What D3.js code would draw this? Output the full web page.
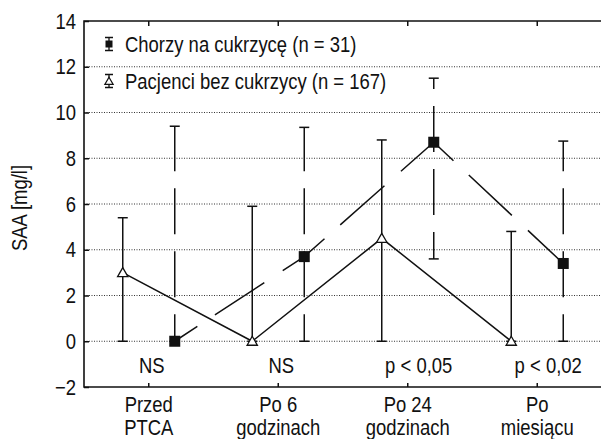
<!DOCTYPE html>
<html>
<head>
<meta charset="utf-8">
<script src="https://cdn.jsdelivr.net/npm/d3@7"></script>
<style>
body { margin: 0; background: #fff; }
text { font-family: "Liberation Sans", Arial, sans-serif; font-size: 22px; fill: #111; }
</style>
</head>
<body>
<div class="diagram"></div>
<script>
var width = 601, height = 439;

// data
var categories = [["Przed", "PTCA"], ["Po 6", "godzinach"], ["Po 24", "godzinach"], ["Po", "miesiącu"]];
var diabMean = [0, 3.7, 8.7, 3.4];
var diabLow  = [0, 0, 3.6, 0];
var diabHigh = [9.4, 9.35, 11.5, 8.75];
var nonMean = [3.0, 0, 4.5, 0];
var nonLow  = [0, 0, 0, 0];
var nonHigh = [5.4, 5.9, 8.8, 4.8];
var pLabels = ["NS", "NS", "p < 0,05", "p < 0,02"];
var yTicks = [-2, 0, 2, 4, 6, 8, 10, 12, 14];
var legendLabels = ["Chorzy na cukrzycę (n = 31)", "Pacjenci bez cukrzycy (n = 167)"];

var margin = { left: 84, top: 21, right: 602, bottom: 387 };
var squeeze = 'scale(0.84,1)';   // narrow type, like Helvetica Narrow

var svg = d3.select('.diagram')
	.append('svg')
	.attr('width', width)
	.attr('height', height);

var x = d3.scaleBand()
	.domain(d3.range(categories.length))
	.range([margin.left, margin.right]);

var y = d3.scaleLinear()
	.domain([-2, 14])
	.range([margin.bottom, margin.top]);

function cx(i) { return x(i) + x.bandwidth() / 2; }
var off = 26;

function label(g, px, py, str, anchor) {
	return g.append('text')
		.attr('transform', 'translate(' + px + ',' + py + ') ' + squeeze)
		.attr('text-anchor', anchor || 'middle')
		.text(str);
}

// grid
svg.append('g')
	.selectAll('line')
	.data(yTicks.filter(function(d) { return d > -2 && d < 14; }))
	.enter().append('line')
	.attr('x1', margin.left).attr('x2', margin.right)
	.attr('y1', function(d) { return y(d); })
	.attr('y2', function(d) { return y(d); })
	.attr('stroke', '#333')
	.attr('stroke-width', 1)
	.attr('stroke-dasharray', '1,1.5');

// axes
var yAxis = d3.axisLeft(y).tickValues(yTicks).tickSize(-5).tickPadding(9.5)
	.tickFormat(function(d) { return d < 0 ? '\u2212' + Math.abs(d) : d; });
var gy = svg.append('g')
	.attr('transform', 'translate(' + margin.left + ',0)')
	.call(yAxis);
gy.select('.domain').remove();
gy.selectAll('text')
	.attr('fill', '#111')
	.attr('transform', squeeze);
gy.attr('font-family', null).attr('font-size', null);

var gx = svg.append('g')
	.attr('transform', 'translate(0,' + margin.bottom + ')')
	.call(d3.axisBottom(x).tickSize(-4).tickFormat(''));
gx.select('.domain').remove();

var gt = svg.append('g')
	.attr('transform', 'translate(0,' + margin.top + ')')
	.call(d3.axisTop(x).tickSize(-5).tickFormat(''));
gt.select('.domain').remove();

svg.selectAll('.tick line').attr('stroke', '#111').attr('stroke-width', 1.5);

// frame
svg.append('path')
	.attr('d', 'M' + margin.right + ',' + margin.top + 'H' + margin.left + 'V' + margin.bottom + 'H' + margin.right)
	.attr('fill', 'none')
	.attr('stroke', '#111')
	.attr('stroke-width', 1.6);

// category labels
var cg = svg.append('g');
categories.forEach(function(c, i) {
	label(cg, cx(i), 412, c[0]);
	label(cg, cx(i), 435, c[1]);
});

// significance labels
var pg = svg.append('g');
pLabels.forEach(function(p, i) {
	label(pg, cx(i) + (i < 2 ? 3 : 11), 373, p);
});

// y title
svg.append('text')
	.attr('transform', 'translate(27,208) rotate(-90) ' + squeeze)
	.attr('text-anchor', 'middle')
	.text('SAA [mg/l]');

// error bars
function errorBars(means, lows, highs, dx, dashed) {
	var g = svg.append('g');
	g.selectAll('.bar')
		.data(means)
		.enter().append('line')
		.attr('x1', function(d, i) { return cx(i) + dx; })
		.attr('x2', function(d, i) { return cx(i) + dx; })
		.attr('y1', function(d, i) { return y(lows[i]); })
		.attr('y2', function(d, i) { return y(highs[i]); })
		.attr('stroke', '#111')
		.attr('stroke-width', 1.5)
		.attr('stroke-dasharray', dashed ? '27,17,46,17,46,17,46,17,46,17,46,17' : null);
	[highs, lows].forEach(function(arr) {
		g.selectAll('.cap')
			.data(arr)
			.enter().append('line')
			.attr('x1', function(d, i) { return cx(i) + dx - 5; })
			.attr('x2', function(d, i) { return cx(i) + dx + 5; })
			.attr('y1', function(d) { return y(d); })
			.attr('y2', function(d) { return y(d); })
			.attr('stroke', '#111')
			.attr('stroke-width', 1.5);
	});
}
errorBars(nonMean, nonLow, nonHigh, -off, false);
errorBars(diabMean, diabLow, diabHigh, off, true);

// diabetic line: dashed, pattern restarts at every point
var diabPairs = d3.pairs(diabMean.map(function(d, i) { return [cx(i) + off, y(d)]; }));
svg.append('g')
	.selectAll('line')
	.data(diabPairs)
	.enter().append('line')
	.attr('x1', function(d) { return d[0][0]; })
	.attr('y1', function(d) { return d[0][1]; })
	.attr('x2', function(d) { return d[1][0]; })
	.attr('y2', function(d) { return d[1][1]; })
	.attr('stroke', '#111')
	.attr('stroke-width', 1.5)
	.attr('stroke-dasharray', '27,21,59,22,200');

var lineNon = d3.line()
	.x(function(d, i) { return cx(i) - off; })
	.y(function(d) { return y(d); });

svg.append('path')
	.datum(nonMean)
	.attr('d', lineNon)
	.attr('fill', 'none')
	.attr('stroke', '#111')
	.attr('stroke-width', 1.5);

// markers
var tri = d3.symbol().type(d3.symbolTriangle).size(46);
svg.append('g')
	.selectAll('path')
	.data(nonMean)
	.enter().append('path')
	.attr('d', tri)
	.attr('transform', function(d, i) { return 'translate(' + (cx(i) - off) + ',' + (y(d) + 1) + ')'; })
	.attr('fill', '#fff')
	.attr('stroke', '#111')
	.attr('stroke-width', 1.3);

svg.append('g')
	.selectAll('rect')
	.data(diabMean)
	.enter().append('rect')
	.attr('x', function(d, i) { return cx(i) + off - 5.5; })
	.attr('y', function(d) { return y(d) - 5.5; })
	.attr('width', 11)
	.attr('height', 11)
	.attr('fill', '#111');

// legend
var legend = svg.append('g')
	.selectAll('g')
	.data(legendLabels)
	.enter().append('g')
	.attr('transform', function(d, i) { return 'translate(109,' + (44 + i * 37) + ')'; });

legend.append('path')
	.attr('d', 'M0,-6.5V6.5M-4,-6.5H4M-4,6.5H4')
	.attr('stroke', '#111')
	.attr('stroke-width', 1.3)
	.attr('fill', 'none');
legend.filter(function(d, i) { return i === 0; })
	.append('rect')
	.attr('x', -3.5).attr('y', -3.5).attr('width', 7).attr('height', 7)
	.attr('fill', '#111');
legend.filter(function(d, i) { return i === 1; })
	.append('path')
	.attr('d', d3.symbol().type(d3.symbolTriangle).size(30))
	.attr('transform', 'translate(0,1)')
	.attr('fill', '#fff')
	.attr('stroke', '#111')
	.attr('stroke-width', 1.2);

legend.each(function(d) {
	label(d3.select(this), 16, 7.5, d, 'start');
});
</script>
</body>
</html>
